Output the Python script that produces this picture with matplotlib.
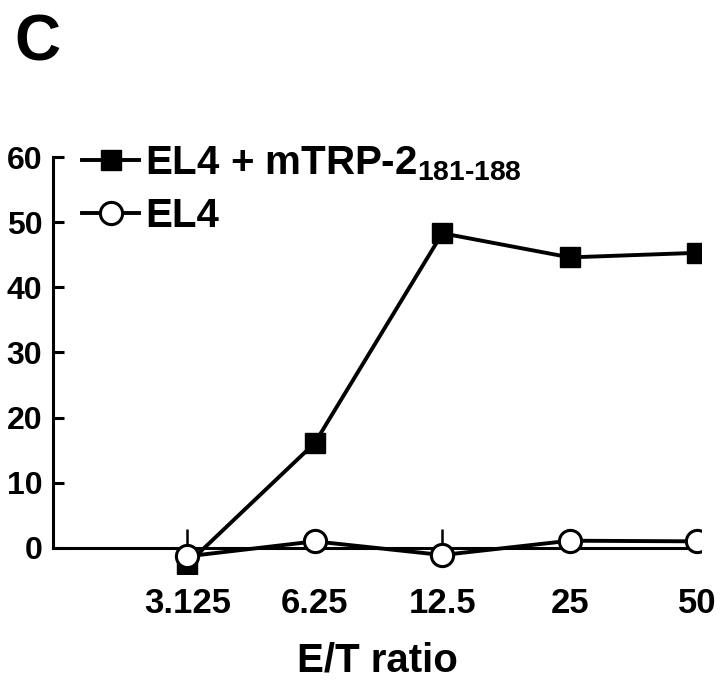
import matplotlib
matplotlib.use("Agg")
import matplotlib.pyplot as plt
import numpy as np

# E/T ratios (categorical axis) and % lysis values
ratios = ["3.125", "6.25", "12.5", "25", "50"]
el4_peptide = [-2.5, 16.1, 48.3, 44.6, 45.3]
el4 = [-1.3, 1.0, -1.1, 1.1, 1.0]
yticks = [0, 10, 20, 30, 40, 50, 60]

plt.rcParams['font.family'] = ['Liberation Sans', 'DejaVu Sans']
plt.rcParams['font.weight'] = 'bold'
plt.rcParams['mathtext.fontset'] = 'custom'
plt.rcParams['mathtext.rm'] = 'Liberation Sans:bold'
plt.rcParams['mathtext.bf'] = 'Liberation Sans:bold'
plt.rcParams['mathtext.default'] = 'bf'

fig = plt.figure(figsize=(7.2, 6.8), dpi=100)
ax = fig.add_axes([0.074, 0.156, 0.9, 0.613])
x = np.arange(len(ratios))

ax.plot(x, el4_peptide, color="black", lw=2.8, marker="s", markersize=14,
        markerfacecolor="black", label=r"EL4 + mTRP-2$_{181\text{-}188}$", zorder=3)
ax.plot(x, el4, color="black", lw=2.8, marker="o", markersize=16,
        markerfacecolor="white", markeredgewidth=2.2, label="EL4", zorder=4)

ax.set_xlim(-1.05, 4.03)
ax.set_ylim(-4, 60)
ax.set_yticks(yticks)
ax.set_xticks(x)
ax.set_xticklabels(ratios)
ax.tick_params(axis="y", direction="in", length=8, width=2.2, labelsize=23, pad=8)
ax.tick_params(axis="x", direction="in", length=14, width=1.8, labelsize=25, pad=28)
for s in ["top", "right"]:
    ax.spines[s].set_visible(False)
ax.spines["left"].set_linewidth(2.2)
ax.spines["left"].set_bounds(0, 60)
ax.spines["bottom"].set_position(("data", 0))
ax.spines["bottom"].set_linewidth(2.2)
ax.spines["bottom"].set_bounds(-1.05, 4)
ax.set_xlabel("E/T ratio", fontsize=29, fontweight="bold", labelpad=16)

leg = ax.legend(loc="upper left", bbox_to_anchor=(0.02, 1.07), frameon=False,
                prop={"weight": "bold", "size": 29},
                handlelength=1.4, handletextpad=0.15, labelspacing=0.35,
                borderaxespad=0)

fig.text(0.02, 0.98, "C", fontsize=46, fontweight="bold", va="top")

plt.savefig("out.png", dpi=100)
